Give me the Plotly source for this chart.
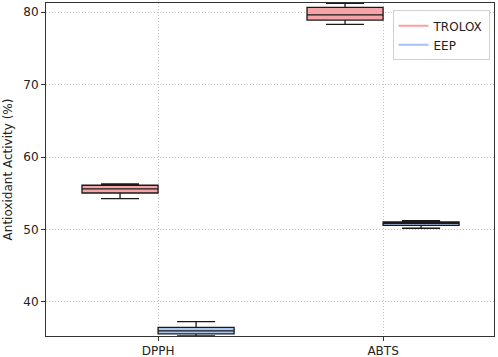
import plotly.graph_objects as go

categories = ["DPPH", "ABTS"]
series_names = ["TROLOX", "EEP"]

trolox_lower = [54.25, 78.3]
trolox_q1 = [55.03, 78.9]
trolox_median = [55.6, 79.6]
trolox_q3 = [56.1, 80.65]
trolox_upper = [56.28, 81.2]

eep_lower = [35.3, 50.17]
eep_q1 = [35.6, 50.57]
eep_median = [36.0, 50.86]
eep_q3 = [36.5, 51.03]
eep_upper = [37.28, 51.2]

y_ticks = [40, 50, 60, 70, 80]

fill_colors = ["rgba(244,160,162,0.95)", "rgba(166,196,238,0.95)"]
legend_colors = ["#f7a1a5", "#a4c2f2"]

fig = go.Figure()
data = [
    (trolox_lower, trolox_q1, trolox_median, trolox_q3, trolox_upper),
    (eep_lower, eep_q1, eep_median, eep_q3, eep_upper),
]
for name, (lo, q1, md, q3, up), fc in zip(series_names, data, fill_colors):
    fig.add_trace(go.Box(
        x=categories, name=name, q1=q1, median=md, q3=q3,
        lowerfence=lo, upperfence=up,
        fillcolor=fc, line=dict(color="#1a1a1a", width=1.3),
        whiskerwidth=0.5, boxpoints=False, showlegend=False,
    ))
for name, lc in zip(series_names, legend_colors):
    fig.add_trace(go.Scatter(
        x=[None], y=[None], mode="lines", name=name,
        line=dict(color=lc, width=2), showlegend=True,
    ))

axis_common = dict(
    showline=True, linecolor="#333", linewidth=1, mirror=True,
    ticks="outside", ticklen=4, tickcolor="#333",
    showgrid=True, gridcolor="#c4c4c4", griddash="1px,2px", gridwidth=1,
    zeroline=False, automargin=False,
    tickfont=dict(family="DejaVu Sans", size=12, color="#222"),
)

fig.update_layout(
    width=498, height=357,
    margin=dict(l=46, r=4, t=3, b=21),
    paper_bgcolor="white", plot_bgcolor="white",
    boxmode="group", boxgap=0.324, boxgroupgap=0,
    font=dict(family="DejaVu Sans", size=11, color="#222"),
    xaxis=dict(type="category", categoryorder="array", categoryarray=categories,
               range=[-0.498, 1.493], **axis_common),
    yaxis=dict(range=[35.3, 81.25], tickvals=y_ticks,
               title=dict(text="Antioxidant Activity (%)", font=dict(size=12), standoff=8),
               **axis_common),
    legend=dict(x=0.99, y=0.978, xanchor="right", yanchor="top",
                bgcolor="rgba(255,255,255,0.8)", bordercolor="#d0d0d0", borderwidth=1,
                font=dict(family="DejaVu Sans", size=12, color="#222"),
                itemwidth=30, tracegroupgap=2),
)

fig.write_html("out.html", config={"displayModeBar": False},
               post_script="document.body.style.margin='0';")
